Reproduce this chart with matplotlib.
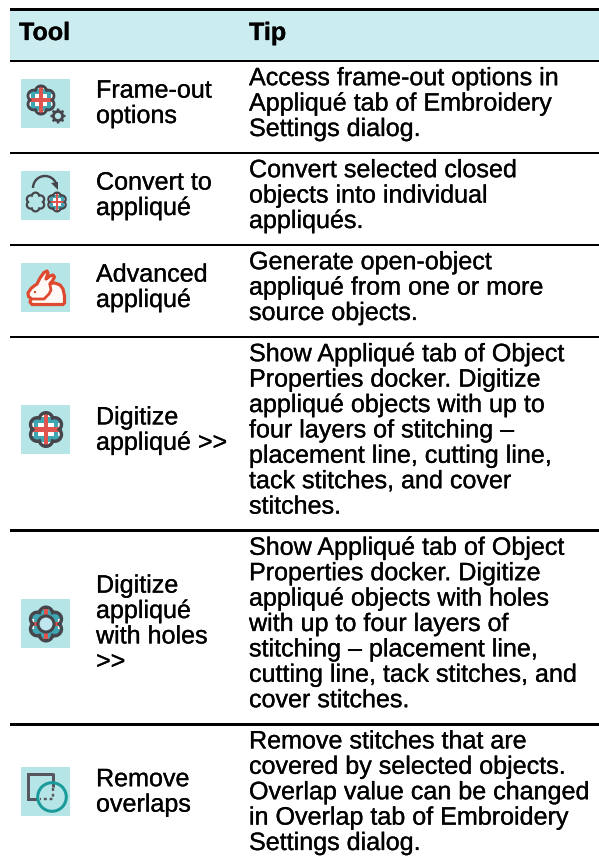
import numpy as np
import matplotlib
matplotlib.use("Agg")
import matplotlib.pyplot as plt
from matplotlib.patches import Polygon, Circle, Rectangle, Arc
import matplotlib.patheffects as pe

plt.rcParams['font.family'] = ['Liberation Sans', 'DejaVu Sans']
plt.rcParams['text.hinting'] = 'none'

headers = ["Tool", "Tip"]
tools = [
    ["Frame-out", "options"],
    ["Convert to", "appliqué"],
    ["Advanced", "appliqué"],
    ["Digitize", "appliqué >>"],
    ["Digitize", "appliqué", "with holes", ">>"],
    ["Remove", "overlaps"],
]
tips = [
    ["Access frame-out options in", "Appliqué tab of Embroidery", "Settings dialog."],
    ["Convert selected closed", "objects into individual", "appliqués."],
    ["Generate open-object", "appliqué from one or more", "source objects."],
    ["Show Appliqué tab of Object", "Properties docker. Digitize", "appliqué objects with up to",
     "four layers of stitching –", "placement line, cutting line,", "tack stitches, and cover", "stitches."],
    ["Show Appliqué tab of Object", "Properties docker. Digitize", "appliqué objects with holes",
     "with up to four layers of", "stitching – placement line,", "cutting line, tack stitches, and", "cover stitches."],
    ["Remove stitches that are", "covered by selected objects.", "Overlap value can be changed",
     "in Overlap tab of Embroidery", "Settings dialog."],
]
icons = ["frame", "convert", "rabbit", "digitize", "holes", "overlap"]

W, H = 599, 860
LEAD = 25.4
FS = 25.1 * 72 / 100

TEAL_BG = "#B5E5E6"
HEAD_BG = "#CBEDEF"
DARK = "#45454B"
RED = "#E0544F"
TEAL = "#3FA6B4"
GREEN = "#1A9A9A"
RAB = "#DD4A30"

fig = plt.figure(figsize=(W / 100, H / 100), dpi=100)
ax = fig.add_axes([0, 0, 1, 1])
ax.set_xlim(0, W)
ax.set_ylim(H, 0)
ax.axis("off")


def lobes(cx, cy, R):
    """Outline of six overlapping round lobes, one of them pointing up."""
    d, a = 0.60 * R, 0.40 * R
    t = np.linspace(0, 2 * np.pi, 361)
    centres = np.pi / 2 + np.arange(6) * np.pi / 3
    dt = t[:, None] - centres[None, :]
    r = (d * np.cos(dt) + np.sqrt(np.maximum(a ** 2 - (d * np.sin(dt)) ** 2, 0)))
    r = np.where(np.abs(d * np.sin(dt)) <= a, r, 0).max(axis=1)
    return np.column_stack([cx + r * np.cos(t), cy + r * np.sin(t)])


def flower(cx, cy, R, lw=3.4, plaid=True, hole=False, fill="white"):
    """Lobed outline filled with the plaid stitch pattern."""
    lwpt = lw * 0.72
    shape = lobes(cx, cy, R - lw / 2)
    body = Polygon(shape, closed=True, fc=fill, ec="none", zorder=3)
    ax.add_patch(body)
    if plaid:
        s = R / 18
        tw = 9.0 if hole else 6.0
        bars = []
        for off in (-9.5, 9.5):
            bars.append(Rectangle((cx - R, cy + off * s - tw / 2 * s), 2 * R, tw * s, fc=TEAL, ec="none", zorder=3.1))
            bars.append(Rectangle((cx + (off - 2.2) * s, cy - R), 4.4 * s, 2 * R, fc=TEAL, ec="none", zorder=3.1))
        bars.append(Rectangle((cx - R, cy - 2.2 * s), 2 * R, 4.4 * s, fc=RED, ec="none", zorder=3.2))
        bars.append(Rectangle((cx - 2.2 * s, cy - R), 4.4 * s, 2 * R, fc=RED, ec="none", zorder=3.2))
        for b in bars:
            ax.add_patch(b)
            b.set_clip_path(body)
    ax.add_patch(Polygon(shape, closed=True, fc="none", ec=DARK, lw=lwpt, zorder=3.5))
    if hole:
        ax.add_patch(Circle((cx, cy), 8.0, fc="#BFE6EE", ec=DARK, lw=lwpt * 0.9, zorder=3.6))


def gear(cx, cy, R):
    t = np.linspace(0, 2 * np.pi, 160)
    r = R * (0.9 + 0.1 * np.sign(np.cos(8 * t)))
    ax.add_patch(Polygon(np.column_stack([cx + r * np.cos(t), cy + r * np.sin(t)]), closed=True, fc=DARK, ec="none", zorder=4))
    ax.add_patch(Circle((cx, cy), R * 0.42, fc=TEAL_BG, ec="none", zorder=4.1))


def draw_icon(kind, x, y):
    """x, y = top-left pixel of the 49 px icon tile."""
    ax.add_patch(Rectangle((x, y), 49, 49, fc=TEAL_BG, ec="none", zorder=2))
    lw3 = 3 * 0.72
    if kind == "frame":
        flower(x + 20, y + 21, 15.5, lw=2.8)
        gear(x + 37, y + 37, 7.5)
    elif kind == "convert":
        flower(x + 14.5, y + 31, 10.5, lw=2.2, plaid=False, fill=TEAL_BG)
        flower(x + 36, y + 31, 10.5, lw=2.2)
        ax.add_patch(Arc((x + 24, y + 17), 24, 24, theta1=180, theta2=350, ec=DARK, lw=lw3 * 0.8, zorder=4))
        ax.add_patch(Polygon([[x + 30, y + 12], [x + 37, y + 11], [x + 37, y + 19]], closed=True, fc=DARK, ec="none", zorder=4))
    elif kind == "rabbit":
        body = [(7, 30), (10, 25.5), (13, 23), (16, 21), (19, 15), (23, 9.5), (26, 8), (27, 10), (25, 16),
                (29, 13), (32, 12), (33.5, 14), (31, 18.5), (29, 20.5), (34, 20), (39, 22), (42, 26), (43.5, 33),
                (43.5, 40), (42, 41.5), (11, 41.5), (9, 39), (10, 35.5), (7.5, 33.5)]
        ax.add_patch(Polygon([(px + x, py + y) for px, py in body], closed=True, fc="#FFFAF7", ec=RAB, lw=2.3, joinstyle="round", zorder=3))
        ax.plot([x + 11, x + 23, x + 28, x + 30, x + 29], [y + 36, y + 36, y + 31, y + 27, y + 22],
                color=RAB, lw=2.0, solid_joinstyle="round", zorder=3.2)
        ax.add_patch(Circle((x + 14, y + 29), 1.2, fc=RAB, ec="none", zorder=3.3))
    elif kind == "digitize":
        flower(x + 25, y + 24.5, 18.5)
    elif kind == "holes":
        flower(x + 25, y + 25, 18.5, hole=True)
    elif kind == "overlap":
        sq = "#55565E"
        l, t, r, b = x + 7, y + 7, x + 32, y + 32
        ax.plot([r, l, l, x + 17], [t, t, b, b], color=sq, lw=lw3, solid_capstyle="butt", solid_joinstyle="miter", zorder=3)
        ax.plot([r, r], [t - 1, y + 20], color=sq, lw=lw3, solid_capstyle="butt", zorder=3)
        ax.plot([r, r, x + 19], [y + 21, b, b], color=sq, lw=lw3 * 0.8, ls=(0, (1.2, 1.2)), zorder=3)
        ax.add_patch(Circle((x + 31, y + 30), 14.3, fc="none", ec=GREEN, lw=lw3, zorder=4))


def rule(y, lw):
    ax.add_patch(Rectangle((10, y - lw / 2), W - 10, lw, fc="black", ec="none", zorder=5))


def label(x, y, s, **kw):
    t = ax.text(x, y, s, fontsize=FS, va="baseline", ha="left", color="black", **kw)
    t.set_path_effects([pe.withStroke(linewidth=0.2, foreground="black")])


# header
ax.add_patch(Rectangle((10, 9), W - 10, 52, fc=HEAD_BG, ec="none", zorder=1))
rule(9.5, 3)
rule(61, 2.6)
label(19, 40, headers[0], fontweight="bold")
label(249, 40, headers[1], fontweight="bold")

# rows
top = 61.0
for tool, tip, icon in zip(tools, tips, icons):
    n = len(tip)
    height = LEAD * n + 15.8
    mid = top + height / 2
    for i, line in enumerate(tip):
        label(249, top + 24.2 + LEAD * i, line)
    first = mid - LEAD * len(tool) / 2 + 16
    for i, line in enumerate(tool):
        label(96, first + LEAD * i, line)
    draw_icon(icon, 21, int(mid - 3.5 - 24.5))
    top += height
    if top < H - 20:
        rule(top, 2.6)

fig.savefig("out.png", dpi=100, facecolor="white")
